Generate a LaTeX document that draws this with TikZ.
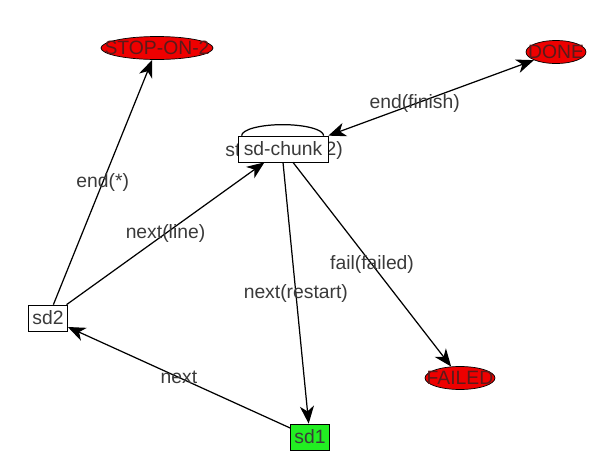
\documentclass[tikz,border=0pt]{standalone}
\usepackage{fontspec}
\setmainfont{Liberation Sans}
\usetikzlibrary{
    arrows.meta,
    shapes.geometric,
    positioning
}
\definecolor{labelgray}{HTML}{3A3A3A}
\definecolor{endred}{HTML}{EE0000}
\definecolor{endtext}{HTML}{5A1A1A}
\definecolor{startgreen}{HTML}{22EE22}

\begin{document}
\begin{tikzpicture}[x=0.02cm, y=-0.02cm, font=\fontsize{11}{13}\selectfont,
    >={Stealth[length=10pt,width=8pt,inset=3pt]},
    statebox/.style={draw, fill=white, inner sep=0pt, minimum height=0.52cm, text=labelgray},
    endstate/.style={ellipse, draw, fill=endred, inner sep=0pt, minimum height=0.46cm},
    endtxt/.style={text=endtext, inner sep=0pt},
    lbl/.style={text=labelgray, inner sep=1pt}]
                                    \useasboundingbox (0, 0) rectangle (600, 467);
                                    \node[endstate, minimum width=2.24cm] (stop) at (157, 48) {};
                                    \node[endtxt] (stoptxt) at (stop) {STOP-ON-2};
                                    \node[endstate, minimum width=1.2cm] (done) at (556, 52) {};
                                    \node[endtxt] (donetxt) at (done) {DONE};
                                    \node[endstate, minimum width=1.4cm] (failed) at (460, 378) {};
                                    \node[endtxt] (failedtxt) at (failed) {FAILED};
                                    \node[lbl] (st) at (233, 150) {st};
                                    \node[lbl] (two) at (331, 150) {(2)};
                                    \node[statebox, minimum width=1.8cm] (chunk) at (283, 149) {sd-chunk};
                                    \draw[line width=0.7pt, fill=white] ([xshift=0.08cm]chunk.north west) arc[start angle=180, end angle=0, x radius=0.82cm, y radius=0.22cm];
                                    \node[statebox, minimum width=0.78cm] (sd2) at (48, 318) {sd2};
                                    \node[statebox, minimum width=0.78cm, fill=startgreen] (sd1) at (310, 437) {sd1};
                                    \draw[line width=0.7pt]
                                    (sd2) edge[->] node[lbl] {end(*)} (stop)
                                    (sd2) edge[->] node[lbl] {next(line)} (chunk)
                                    (chunk.north east) edge[<->] node[lbl, pos=0.42] {end(finish)} (done)
                                    (chunk.south) edge[->] node[lbl] {next(restart)} (sd1)
                                    ([xshift=0.2cm]chunk.south) edge[->] node[lbl] {fail(failed)} (failed)
                                    (sd1) edge[->] node[lbl] {next} (sd2);
                                \end{tikzpicture}
\end{document}
